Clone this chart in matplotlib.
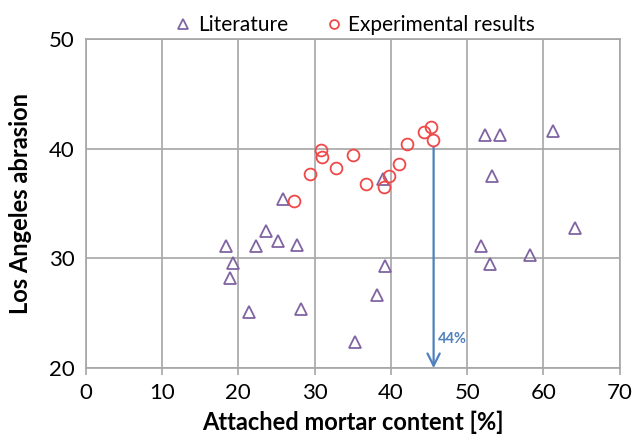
import matplotlib
matplotlib.use("Agg")
import matplotlib.pyplot as plt

plt.rcParams['font.family'] = ['Lato', 'DejaVu Sans']

# Literature data (attached mortar %, LA abrasion)
lit_x = [25.9, 18.4, 19.3, 18.9, 23.6, 22.3, 25.2, 27.7, 39.0, 39.2, 21.4,
         28.2, 38.2, 35.3, 51.8, 52.3, 54.3, 61.2, 53.3, 64.1, 53.0, 58.2]
lit_y = [35.4, 31.1, 29.6, 28.2, 32.5, 31.1, 31.6, 31.2, 37.2, 29.3, 25.1,
         25.4, 26.7, 22.4, 31.1, 41.2, 41.2, 41.6, 37.5, 32.8, 29.5, 30.3]

# Experimental results
exp_x = [27.3, 29.4, 30.8, 31.0, 32.8, 35.0, 36.7, 39.1, 39.7, 41.0,
         42.1, 44.4, 45.3, 45.5]
exp_y = [35.2, 37.7, 39.9, 39.2, 38.2, 39.4, 36.8, 36.5, 37.5, 38.6,
         40.4, 41.5, 42.0, 40.8]

arrow_x = 45.6
arrow_top = 40.8
arrow_label = "44%"

fig = plt.figure(figsize=(6.35, 4.42), dpi=100)
ax = fig.add_axes([0.135, 0.167, 0.841, 0.745])

ax.plot(lit_x, lit_y, linestyle='none', marker='^', markersize=9,
        markerfacecolor='none', markeredgecolor='#8064A2', markeredgewidth=1.3,
        label='Literature', zorder=3)
ax.plot(exp_x, exp_y, linestyle='none', marker='o', markersize=8.5,
        markerfacecolor='none', markeredgecolor='#F04848', markeredgewidth=1.3,
        label='Experimental results', zorder=4)

ax.annotate('', xy=(arrow_x, 20), xytext=(arrow_x, arrow_top),
            arrowprops=dict(arrowstyle='->', color='#4F81BD', lw=1.6,
                            mutation_scale=22, shrinkA=5, shrinkB=0), zorder=2)
ax.text(arrow_x + 0.5, 22.7, arrow_label, color='#4F81BD', fontsize=10.5,
        fontweight='bold', va='center', ha='left')

ax.set_xlim(0, 70)
ax.set_ylim(20, 50)
ax.set_xticks(range(0, 71, 10))
ax.set_yticks(range(20, 51, 10))
ax.grid(True, color='#A6A6A6', linewidth=1.2)
ax.set_axisbelow(True)
for s in ax.spines.values():
    s.set_color('#A6A6A6')
    s.set_linewidth(1.2)
ax.tick_params(axis='both', labelsize=16, color='#A6A6A6', length=5,
               width=1.2)
ax.tick_params(axis='x', pad=6)
ax.tick_params(axis='y', length=0, pad=8)

ax.set_xlabel('Attached mortar content [%]', fontsize=17, fontweight='bold',
              labelpad=5)
ax.set_ylabel('Los Angeles abrasion', fontsize=17, fontweight='bold',
              labelpad=12)

fig.legend(loc='center', bbox_to_anchor=(0.556, 0.943), ncol=2, frameon=False,
           fontsize=15, handletextpad=0.1, columnspacing=1.6, handlelength=1.2,
           markerscale=0.75)

fig.savefig('out.png', dpi=100)
